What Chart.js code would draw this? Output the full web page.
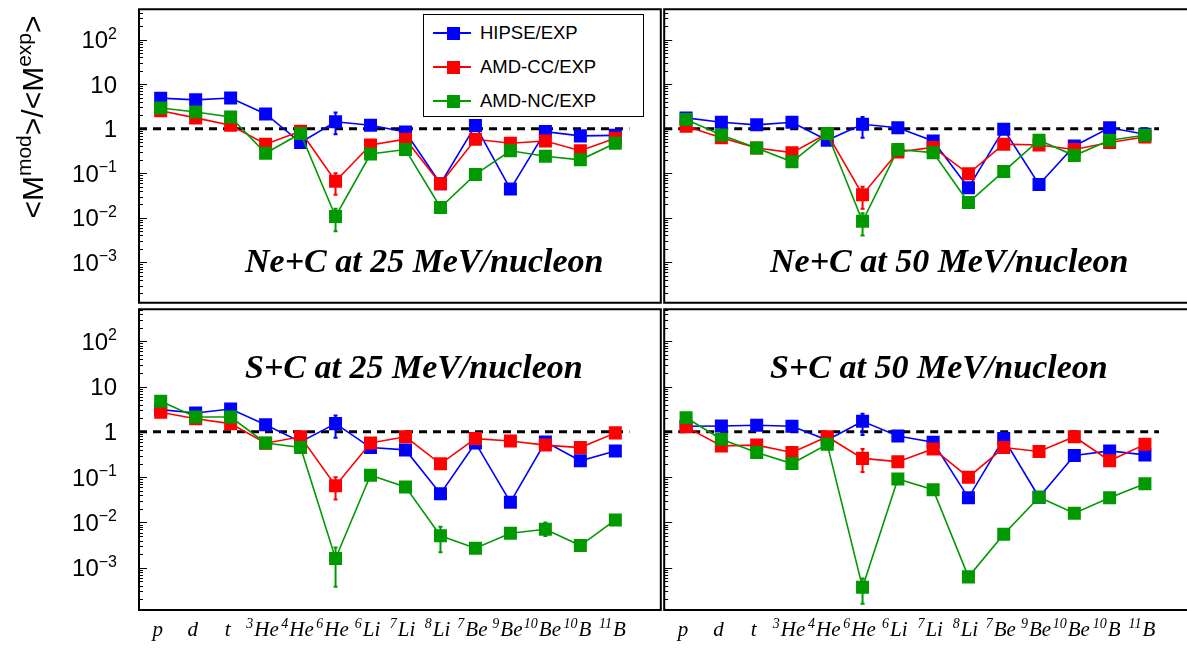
<!DOCTYPE html>
<html>
<head>
<meta charset="utf-8">
<script src="https://cdn.jsdelivr.net/npm/chart.js@4.4.1/dist/chart.umd.min.js"></script>
<style>
  body { margin: 0; background: #fff; overflow: hidden; }
  #wrap { position: relative; width: 1187px; height: 648px; overflow: hidden; background: #fff; }
  canvas { position: absolute; }
  .title { position: absolute; font: italic bold 34px 'Liberation Serif', serif; line-height: 34px; white-space: nowrap; color: #000; }
  #ytitle { position: absolute; left: -114px; top: 97px; width: 300px; height: 40px; line-height: 40px;
            text-align: center; font: 30px 'Liberation Sans', Arial, sans-serif; white-space: nowrap;
            transform: rotate(-90deg); transform-origin: 50% 50%; }
  #ytitle sup { font-size: 70%; vertical-align: 0.55em; line-height: 0; }
  #legend { position: absolute; left: 423px; top: 14px; width: 219px; height: 101px; border: 1.5px solid #000; background: #fff; }
  .row { position: absolute; left: 0; height: 20px; width: 219px; }
  .row .ln { position: absolute; left: 9px; top: 9px; width: 38px; height: 1.5px; }
  .row .sq { position: absolute; left: 23px; top: 3.5px; width: 13px; height: 13px; }
  .row .tx { position: absolute; left: 56px; top: -1px; font: 18.5px 'Liberation Sans', Arial, sans-serif; line-height: 22px; white-space: nowrap; }
</style>
</head>
<body>
<div id="wrap">
  <canvas id="c0" width="670" height="312" style="left:0;top:0"></canvas>
  <canvas id="c1" width="545" height="312" style="left:655px;top:0"></canvas>
  <canvas id="c2" width="670" height="348" style="left:0;top:300px"></canvas>
  <canvas id="c3" width="545" height="348" style="left:655px;top:300px"></canvas>
  <div id="ytitle">&lt;M<sup>mod</sup>&gt;/&lt;M<sup>exp</sup>&gt;</div>
  <div class="title" style="left:245px;top:244px">Ne+C at 25 MeV/nucleon</div>
  <div class="title" style="left:770px;top:244px">Ne+C at 50 MeV/nucleon</div>
  <div class="title" style="left:245px;top:350px">S+C at 25 MeV/nucleon</div>
  <div class="title" style="left:770px;top:350px">S+C at 50 MeV/nucleon</div>
  <div id="legend"></div>
</div>
<script>
// fragments on the x axis (leading digits = mass number, drawn as superscript)
const categories = ['p', 'd', 't', '3He', '4He', '6He', '6Li', '7Li', '8Li', '7Be', '9Be', '10Be', '10B', '11B'];
const seriesNames = ['HIPSE/EXP', 'AMD-CC/EXP', 'AMD-NC/EXP'];
const seriesColors = ['#0000ff', '#ff0000', '#009900'];
const yTickValues = [1e-3, 1e-2, 1e-1, 1, 10, 100];
const yTickLabels = ['10^−3', '10^−2', '10^−1', '1', '10', '10^2'];
const refLineEnd = 13.4;   // dashed ratio = 1 line ends just after 11B

// Ne+C at 25 MeV/nucleon
const neC25Hipse = [4.85, 4.45, 4.9, 2.15, 0.49, 1.43, 1.2, 0.84, 0.058, 1.18, 0.044, 0.86, 0.69, 0.71];
const neC25AmdCC = [2.54, 1.75, 1.2, 0.45, 0.88, 0.066, 0.43, 0.58, 0.058, 0.58, 0.47, 0.53, 0.32, 0.61];
const neC25AmdNC = [2.91, 2.38, 1.84, 0.28, 0.78, 0.0107, 0.27, 0.34, 0.017, 0.094, 0.32, 0.24, 0.20, 0.47];
const neC25HipseErr = [[5, 0.75, 2.3]];
const neC25AmdCCErr = [[5, 0.033, 0.1]];
const neC25AmdNCErr = [[5, 0.005, 0.016]];

// Ne+C at 50 MeV/nucleon
const neC50Hipse = [1.75, 1.4, 1.22, 1.4, 0.55, 1.26, 1.05, 0.53, 0.047, 0.97, 0.056, 0.41, 1.05, 0.75];
const neC50AmdCC = [1.14, 0.63, 0.37, 0.29, 0.78, 0.033, 0.30, 0.38, 0.097, 0.45, 0.43, 0.34, 0.49, 0.65];
const neC50AmdNC = [1.61, 0.72, 0.37, 0.18, 0.78, 0.0083, 0.34, 0.29, 0.022, 0.11, 0.55, 0.25, 0.55, 0.71];
const neC50HipseErr = [[5, 0.63, 1.84]];
const neC50AmdCCErr = [[5, 0.016, 0.05]];
const neC50AmdNCErr = [[5, 0.004, 0.0127]];

// S+C at 25 MeV/nucleon
const sC25Hipse = [3.1, 2.6, 3.2, 1.44, 0.6, 1.52, 0.45, 0.40, 0.043, 0.57, 0.028, 0.6, 0.23, 0.38];
const sC25AmdCC = [2.7, 1.95, 1.52, 0.56, 0.78, 0.065, 0.57, 0.78, 0.197, 0.71, 0.63, 0.51, 0.45, 0.95];
const sC25AmdNC = [4.75, 2.13, 2.13, 0.57, 0.45, 0.0016, 0.11, 0.061, 0.0051, 0.0027, 0.0058, 0.0071, 0.0031, 0.0114];
const sC25HipseErr = [[5, 0.74, 2.3]];
const sC25AmdCCErr = [[5, 0.032, 0.1]];
const sC25AmdNCErr = [[5, 0.00038, 0.0028], [8, 0.0022, 0.008], [9, 0.0024, 0.003], [11, 0.005, 0.01]];

// S+C at 50 MeV/nucleon
const sC50Hipse = [1.33, 1.35, 1.4, 1.33, 0.66, 1.71, 0.81, 0.59, 0.035, 0.71, 0.036, 0.30, 0.38, 0.31];
const sC50AmdCC = [1.29, 0.49, 0.51, 0.35, 0.78, 0.26, 0.22, 0.42, 0.1, 0.45, 0.37, 0.78, 0.23, 0.53];
const sC50AmdNC = [2.05, 0.69, 0.35, 0.20, 0.53, 0.00037, 0.091, 0.053, 0.00063, 0.0055, 0.036, 0.016, 0.035, 0.072];
const sC50HipseErr = [[5, 0.85, 2.5]];
const sC50AmdCCErr = [[5, 0.13, 0.42]];
const sC50AmdNCErr = [[5, 0.00016, 0.00058], [8, 0.00055, 0.0007]];

const xMin = -0.62, xMax = 14.3;

// legend (html, inside the first panel)
const legend = document.getElementById('legend');
const rowTops = [8, 42, 76];
seriesNames.forEach((name, i) => {
  const row = document.createElement('div');
  row.className = 'row';
  row.style.top = rowTops[i] + 'px';
  row.innerHTML = '<div class="ln" style="background:' + seriesColors[i] + '"></div>' +
    '<div class="sq" style="background:' + seriesColors[i] + '"></div>' +
    '<div class="tx">' + name + '</div>';
  legend.appendChild(row);
});

// frame + inward log ticks
const framePlugin = {
  id: 'frame',
  afterDraw(chart, args, opts) {
    const ctx = chart.ctx, a = chart.chartArea, y = chart.scales.y;
    ctx.save();
    ctx.strokeStyle = '#000';
    ctx.lineWidth = 1;
    for (let k = -4; k <= 2; k++) {
      for (let m = 1; m <= 9; m++) {
        const v = m * Math.pow(10, k);
        if (v < y.min || v > y.max) continue;
        const py = Math.round(y.getPixelForValue(v)) + 0.5;
        ctx.beginPath();
        ctx.moveTo(a.left, py);
        ctx.lineTo(a.left + (m === 1 ? 8 : 4), py);
        ctx.stroke();
      }
    }
    ctx.lineWidth = 2;
    ctx.beginPath();
    ctx.moveTo(a.right + 1, a.top); ctx.lineTo(a.left, a.top);
    ctx.lineTo(a.left, a.bottom); ctx.lineTo(a.right + 1, a.bottom);
    if (opts.closeRight) { ctx.moveTo(a.right, a.top); ctx.lineTo(a.right, a.bottom); }
    ctx.stroke();
    ctx.restore();
  }
};

// tick labels with real superscripts, placed through the chart's scales
const labelPlugin = {
  id: 'richLabels',
  afterDraw(chart, args, opts) {
    const ctx = chart.ctx, a = chart.chartArea;
    ctx.save();
    ctx.fillStyle = '#000';
    ctx.textBaseline = 'alphabetic';
    ctx.textAlign = 'left';
    if (opts.showY) {
      const ys = chart.scales.y;
      yTickValues.forEach((v, i) => {
        const [base, sup] = yTickLabels[i].split('^');
        const py = ys.getPixelForValue(v);
        const right = a.left - 22;
        ctx.font = '16px "Liberation Sans"';
        const ws = sup ? ctx.measureText(sup).width : 0;
        ctx.font = '24px "Liberation Sans"';
        const wb = ctx.measureText(base).width;
        ctx.fillText(base, right - ws - wb, py + 8.6);
        if (sup) {
          ctx.font = '16px "Liberation Sans"';
          ctx.fillText(sup, right - ws, py - 1);
        }
      });
    }
    if (opts.showX) {
      const xs = chart.scales.x;
      categories.forEach((c, i) => {
        const m = c.match(/^(\d*)(.*)$/);
        const sup = m[1], base = m[2];
        const px = xs.getPixelForValue(i);
        const baseline = a.bottom + 26;
        ctx.font = 'italic 14px "Liberation Serif"';
        const ws = sup ? ctx.measureText(sup).width + 1 : 0;
        ctx.font = 'italic 21px "Liberation Serif"';
        const wb = ctx.measureText(base).width;
        const x0 = px - (ws + wb) / 2 - 3;
        ctx.fillText(base, x0 + ws, baseline);
        if (sup) {
          ctx.font = 'italic 14px "Liberation Serif"';
          ctx.fillText(sup, x0, baseline - 8);
        }
      });
    }
    ctx.restore();
  }
};

// vertical error bars
const errorBarPlugin = {
  id: 'errbars',
  afterDatasetsDraw(chart) {
    const ctx = chart.ctx, xs = chart.scales.x, ys = chart.scales.y, a = chart.chartArea;
    ctx.save();
    ctx.beginPath();
    ctx.rect(a.left, a.top, a.right - a.left, a.bottom - a.top);
    ctx.clip();
    chart.data.datasets.forEach(ds => {
      if (!ds.errorBars) return;
      ctx.strokeStyle = ds.borderColor;
      ctx.lineWidth = 2;
      ds.errorBars.forEach(([i, lo, hi]) => {
        const px = xs.getPixelForValue(i);
        const y1 = ys.getPixelForValue(lo), y2 = ys.getPixelForValue(hi);
        ctx.beginPath();
        ctx.moveTo(px, y1); ctx.lineTo(px, y2);
        ctx.moveTo(px - 2, y1); ctx.lineTo(px + 2, y1);
        ctx.moveTo(px - 2, y2); ctx.lineTo(px + 2, y2);
        ctx.stroke();
      });
    });
    ctx.restore();
  }
};

function makePanel(id, series, errors, o) {
  const datasets = series.map((vals, s) => ({
    label: seriesNames[s],
    data: vals.map((v, i) => ({ x: i, y: v })),
    borderColor: seriesColors[s],
    backgroundColor: seriesColors[s],
    borderWidth: 1.6,
    pointStyle: 'rect',
    pointRadius: 9.2,
    pointBorderWidth: 0,
    tension: 0,
    order: 3 - s,
    errorBars: errors[s]
  }));
  datasets.push({
    label: 'ratio = 1',
    data: [{ x: xMin, y: 1 }, { x: refLineEnd, y: 1 }],
    borderColor: '#000',
    borderWidth: 3,
    borderDash: [8, 6],
    pointRadius: 0,
    order: 10
  });

  return new Chart(document.getElementById(id), {
    type: 'line',
    data: { datasets },
    options: {
      responsive: false,
      animation: false,
      events: [],
      layout: { padding: o.padding },
      plugins: {
        legend: { display: false },
        tooltip: { enabled: false },
        richLabels: { showX: o.showX, showY: o.showY },
        frame: { closeRight: o.showY }
      },
      scales: {
        x: { type: 'linear', min: xMin, max: xMax, display: false },
        y: { type: 'logarithmic', min: o.yMin, max: o.yMax, display: false }
      }
    },
    plugins: [errorBarPlugin, framePlugin, labelPlugin]
  });
}

const topRange = { yMin: 1.23e-4, yMax: 483 };
const botRange = { yMin: 1.17e-4, yMax: 510 };

makePanel('c0', [neC25Hipse, neC25AmdCC, neC25AmdNC], [neC25HipseErr, neC25AmdCCErr, neC25AmdNCErr],
  { ...topRange, showX: false, showY: true, padding: { top: 8, right: 7, bottom: 6, left: 139 } });
makePanel('c1', [neC50Hipse, neC50AmdCC, neC50AmdNC], [neC50HipseErr, neC50AmdCCErr, neC50AmdNCErr],
  { ...topRange, showX: false, showY: false, padding: { top: 8, right: 6.6, bottom: 6, left: 8 } });
makePanel('c2', [sC25Hipse, sC25AmdCC, sC25AmdNC], [sC25HipseErr, sC25AmdCCErr, sC25AmdNCErr],
  { ...botRange, showX: true, showY: true, padding: { top: 6, right: 7, bottom: 38, left: 139 } });
makePanel('c3', [sC50Hipse, sC50AmdCC, sC50AmdNC], [sC50HipseErr, sC50AmdCCErr, sC50AmdNCErr],
  { ...botRange, showX: true, showY: false, padding: { top: 6, right: 6.6, bottom: 38, left: 8 } });
</script>
</body>
</html>
